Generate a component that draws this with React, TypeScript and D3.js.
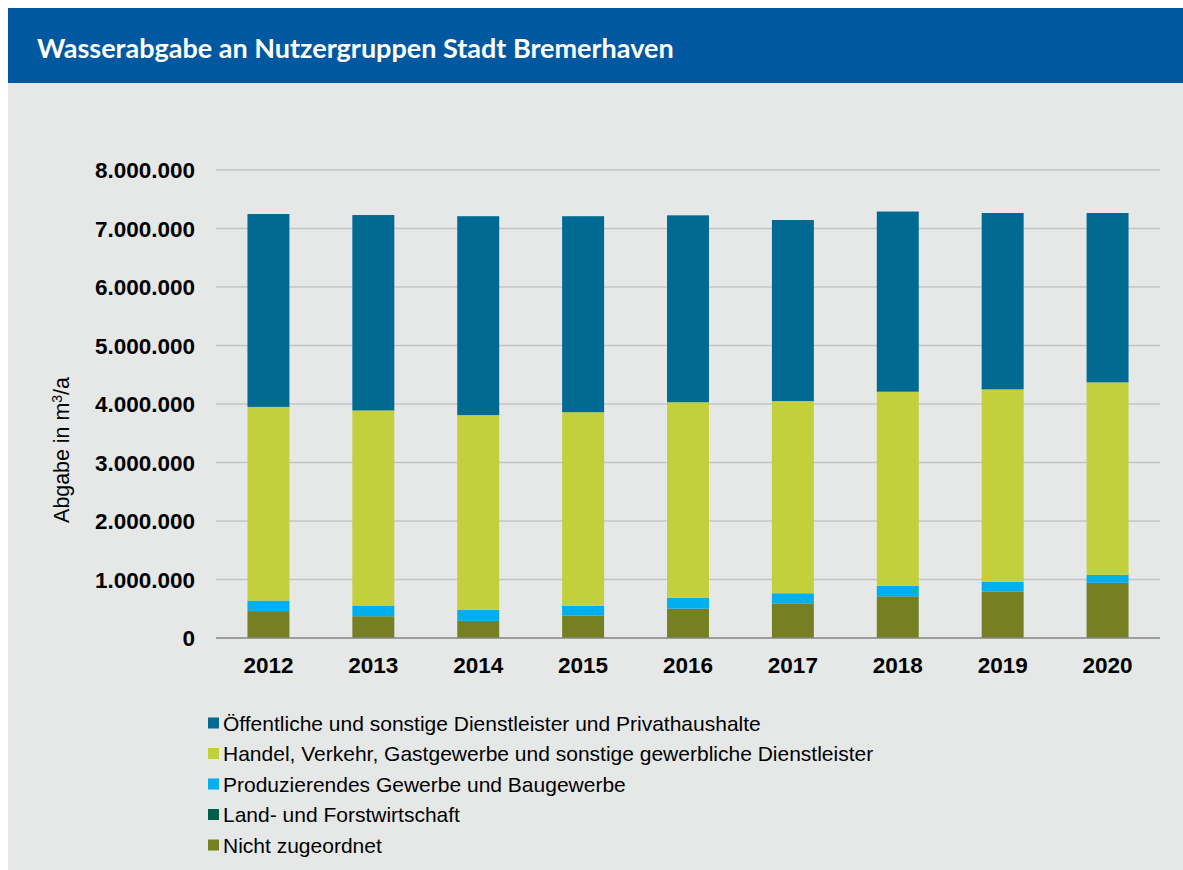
import React from "react";
import * as d3 from "d3";

const years = ["2012", "2013", "2014", "2015", "2016", "2017", "2018", "2019", "2020"];

// Werte in m³/a
const nichtZugeordnet = [460000, 370000, 290000, 380000, 500000, 590000, 710000, 790000, 940000];
const landForst = [3000, 3000, 3000, 3000, 3000, 3000, 3000, 3000, 3000];
const produzierend = [177000, 182000, 187000, 167000, 187000, 172000, 177000, 167000, 137000];
const handel = [3310000, 3335000, 3330000, 3310000, 3340000, 3285000, 3320000, 3290000, 3290000];
const oeffentlich = [3298000, 3340000, 3400000, 3350000, 3195000, 3095000, 3080000, 3015000, 2895000];

const yTicks = [0, 1000000, 2000000, 3000000, 4000000, 5000000, 6000000, 7000000, 8000000];

const seriesKeys = ["nicht", "land", "prod", "handel", "oeff"];
const seriesLabels: Record<string, string> = {
  oeff: "Öffentliche und sonstige Dienstleister und Privathaushalte",
  handel: "Handel, Verkehr, Gastgewerbe und sonstige gewerbliche Dienstleister",
  prod: "Produzierendes Gewerbe und Baugewerbe",
  land: "Land- und Forstwirtschaft",
  nicht: "Nicht zugeordnet",
};
const seriesColors: Record<string, string> = {
  oeff: "#006a93",
  handel: "#c2d03b",
  prod: "#00b0ee",
  land: "#005f4b",
  nicht: "#768022",
};
const legendOrder = ["oeff", "handel", "prod", "land", "nicht"];

const W = 1183;
const H = 870;

export default function App() {
  const rows = years.map((y, i) => ({
    year: y,
    nicht: nichtZugeordnet[i],
    land: landForst[i],
    prod: produzierend[i],
    handel: handel[i],
    oeff: oeffentlich[i],
  }));

  const x = d3.scaleBand<string>().domain(years).range([216, 1160]).paddingInner(0.6).paddingOuter(0.3);
  const y = d3.scaleLinear().domain([0, 8000000]).range([638, 170]);
  const stacked = d3.stack<any>().keys(seriesKeys)(rows);
  const fmt = (v: number) => d3.format(",")(v).replace(/,/g, ".");

  const font = "'Liberation Sans', Arial, sans-serif";

  return (
    <svg
      width={W}
      height={H}
      style={{ position: "fixed", left: 0, top: 0, background: "#fff" }}
    >
      <rect x={8} y={8} width={W - 8} height={H - 8} fill="#e6e8e7" />
      <rect x={8} y={8} width={W - 8} height={75} fill="#0059a0" />
      <text x={37} y={58} fill="#fff" fontFamily="Lato, 'Open Sans', sans-serif" fontWeight={700} fontSize={27}>
        Wasserabgabe an Nutzergruppen Stadt Bremerhaven
      </text>

      {/* grid + y labels */}
      {yTicks.map((t) => (
        <g key={t}>
          {t > 0 && (
            <line x1={216} x2={1160} y1={y(t)} y2={y(t)} stroke="#c3c4c4" strokeWidth={1.5} />
          )}
          <text
            x={195}
            y={y(t)}
            dy="0.36em"
            textAnchor="end"
            fontFamily={font}
            fontWeight={700}
            fontSize={22.5}
            fill="#000"
          >
            {fmt(t)}
          </text>
        </g>
      ))}

      {/* bars */}
      {stacked.map((s) => (
        <g key={s.key} fill={seriesColors[s.key]}>
          {s.map((d, i) => (
            <rect
              key={i}
              x={x(years[i])}
              y={y(d[1])}
              width={x.bandwidth()}
              height={Math.max(0, y(d[0]) - y(d[1]))}
            />
          ))}
        </g>
      ))}

      <line x1={216} x2={1160} y1={y(0)} y2={y(0)} stroke="#858585" strokeWidth={1.5} />

      {/* x labels */}
      {years.map((yr) => (
        <text
          key={yr}
          x={(x(yr) as number) + x.bandwidth() / 2}
          y={673}
          textAnchor="middle"
          fontFamily={font}
          fontWeight={700}
          fontSize={22.5}
          fill="#000"
        >
          {yr}
        </text>
      ))}

      <text
        transform="translate(69,450) rotate(-90)"
        textAnchor="middle"
        fontFamily={font}
        fontSize={21.4}
        fill="#000"
      >
        Abgabe in m<tspan dy={-7} fontSize={14}>3</tspan><tspan dy={7}>/a</tspan>
      </text>

      {/* legend */}
      {legendOrder.map((k, i) => {
        const cy = 723 + i * 30.5;
        return (
          <g key={k}>
            <rect x={208} y={cy - 5.5} width={11} height={11} fill={seriesColors[k]} />
            <text x={223} y={cy} dy="0.36em" fontFamily={font} fontSize={21} fill="#000">
              {seriesLabels[k]}
            </text>
          </g>
        );
      })}
    </svg>
  );
}
